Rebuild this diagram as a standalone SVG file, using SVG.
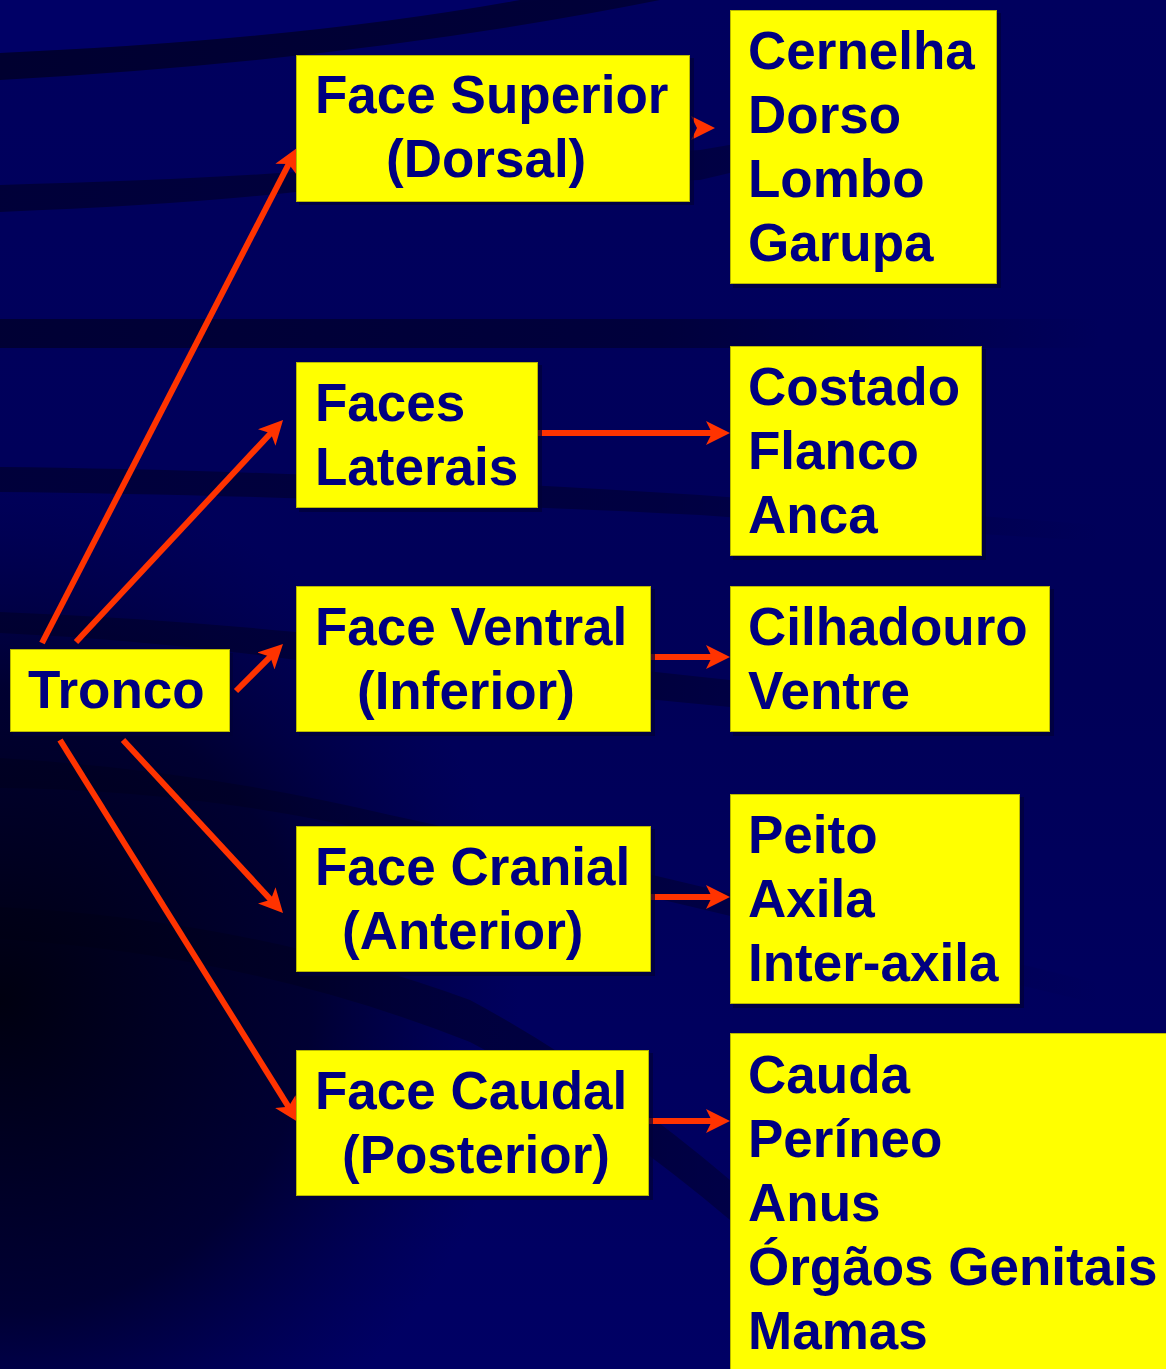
<svg xmlns="http://www.w3.org/2000/svg" width="1166" height="1369" viewBox="0 0 1166 1369">
<style>
.box{fill:#FFFF00;stroke:#B8B800;stroke-width:1}
.sh{fill:#000038;opacity:0.7}
.t{font-family:"Liberation Sans",Arial,sans-serif;font-weight:bold;font-size:53px;fill:#000080}
.ar{stroke:#FF3300;stroke-width:6;fill:none;marker-end:url(#ah)}
.band{fill:url(#fade)}
</style>
<defs>
<marker id="ah" viewBox="0 0 24 24" refX="10" refY="12" markerWidth="24" markerHeight="24" markerUnits="userSpaceOnUse" orient="auto">
<path d="M0,0 L24,12 L0,24 L6,12 Z" fill="#FF3300"/>
</marker>
<linearGradient id="bg" x1="0" y1="0" x2="0" y2="1">
<stop offset="0" stop-color="#00005E"/>
<stop offset="0.5" stop-color="#000058"/>
<stop offset="1" stop-color="#000064"/>
</linearGradient>
<linearGradient id="fade" x1="0" y1="0" x2="1100" y2="0" gradientUnits="userSpaceOnUse">
<stop offset="0" stop-color="#000030" stop-opacity="1"/>
<stop offset="0.6" stop-color="#000030" stop-opacity="0.8"/>
<stop offset="1" stop-color="#000030" stop-opacity="0"/>
</linearGradient>
<radialGradient id="dk" cx="0" cy="1000" r="520" gradientUnits="userSpaceOnUse">
<stop offset="0" stop-color="#000010" stop-opacity="1"/>
<stop offset="0.6" stop-color="#000020" stop-opacity="0.7"/>
<stop offset="1" stop-color="#000040" stop-opacity="0"/>
</radialGradient>
</defs>
<g id="background">
<rect width="1166" height="1369" fill="url(#bg)"/>
<path d="M0,0 H540 Q300,40 0,53 Z" fill="#000066"/>
<path class="band" d="M0,53 Q300,40 520,0 H660 Q360,60 0,80 Z"/>
<path class="band" d="M0,185 Q180,180 296,172 L700,150 Q850,125 1000,95 L1000,110 Q850,145 700,180 L296,192 Q180,205 0,212 Z" opacity="0.8"/>
<rect class="band" x="0" y="319" width="1166" height="29" opacity="0.9"/>
<path class="band" d="M0,467 Q300,470 700,495 Q900,510 1166,530 L1166,545 Q900,530 700,515 Q300,495 0,492 Z" opacity="0.75"/>
<path class="band" d="M0,612 Q150,618 296,632 Q500,655 730,680 L730,707 Q500,685 296,660 Q150,640 0,633 Z" opacity="0.8"/>
<path class="band" d="M0,758 Q200,770 390,815 Q600,860 1166,1000 L1166,1020 Q600,885 390,835 Q200,790 0,788 Z" opacity="0.75"/>
<path class="band" d="M0,907 Q250,920 470,1000 Q600,1070 730,1180 L730,1220 Q600,1110 470,1042 Q250,955 0,939 Z" opacity="0.8"/>
<rect width="1166" height="1369" fill="url(#dk)"/>
</g>
<g id="connectors">
<line class="ar" x1="42" y1="643" x2="290.6" y2="160.4"/>
<line class="ar" x1="76" y1="642" x2="273.5" y2="430.2"/>
<line class="ar" x1="236" y1="691" x2="273.1" y2="653.9"/>
<line class="ar" x1="123" y1="740" x2="273.5" y2="902.7"/>
<line class="ar" x1="60" y1="740" x2="290.6" y2="1110.1"/>
<line class="ar" x1="697" y1="128" x2="701" y2="128"/>
<line class="ar" x1="538" y1="433" x2="716" y2="433"/>
<line class="ar" x1="651" y1="657" x2="716" y2="657"/>
<line class="ar" x1="651" y1="897" x2="716" y2="897"/>
<line class="ar" x1="649" y1="1121" x2="716" y2="1121"/>
</g>
<g id="tronco">
<rect class="sh" x="13" y="653" width="220" height="83"/>
<rect class="box" x="10.5" y="649.5" width="219" height="82"/>
<text class="t" x="28" y="708">Tronco</text>
</g>
<g id="face-superior">
<rect class="sh" x="299" y="58" width="395" height="147"/>
<rect class="box" x="296.5" y="55.5" width="393" height="146"/>
<text class="t" x="315" y="113">Face Superior</text>
<text class="t" x="386" y="177">(Dorsal)</text>
</g>
<g id="cernelha">
<rect class="sh" x="733" y="13" width="268" height="275"/>
<rect class="box" x="730.5" y="10.5" width="266" height="273"/>
<text class="t" x="748" y="69">Cernelha</text>
<text class="t" x="748" y="133">Dorso</text>
<text class="t" x="748" y="197">Lombo</text>
<text class="t" x="748" y="261">Garupa</text>
</g>
<g id="faces-laterais">
<rect class="sh" x="299" y="365" width="243" height="147"/>
<rect class="box" x="296.5" y="362.5" width="241" height="145"/>
<text class="t" x="315" y="421">Faces</text>
<text class="t" x="315" y="485">Laterais</text>
</g>
<g id="costado">
<rect class="sh" x="733" y="349" width="253" height="211"/>
<rect class="box" x="730.5" y="346.5" width="251" height="209"/>
<text class="t" x="748" y="405">Costado</text>
<text class="t" x="748" y="469">Flanco</text>
<text class="t" x="748" y="533">Anca</text>
</g>
<g id="face-ventral">
<rect class="sh" x="299" y="589" width="356" height="147"/>
<rect class="box" x="296.5" y="586.5" width="354" height="145"/>
<text class="t" x="315" y="645">Face Ventral</text>
<text class="t" x="357" y="709">(Inferior)</text>
</g>
<g id="cilhadouro">
<rect class="sh" x="733" y="589" width="321" height="147"/>
<rect class="box" x="730.5" y="586.5" width="319" height="145"/>
<text class="t" x="748" y="645">Cilhadouro</text>
<text class="t" x="748" y="709">Ventre</text>
</g>
<g id="face-cranial">
<rect class="sh" x="299" y="829" width="356" height="147"/>
<rect class="box" x="296.5" y="826.5" width="354" height="145"/>
<text class="t" x="315" y="885">Face Cranial</text>
<text class="t" x="342" y="949">(Anterior)</text>
</g>
<g id="peito">
<rect class="sh" x="733" y="797" width="291" height="211"/>
<rect class="box" x="730.5" y="794.5" width="289" height="209"/>
<text class="t" x="748" y="853">Peito</text>
<text class="t" x="748" y="917">Axila</text>
<text class="t" x="748" y="981">Inter-axila</text>
</g>
<g id="face-caudal">
<rect class="sh" x="299" y="1053" width="354" height="147"/>
<rect class="box" x="296.5" y="1050.5" width="352" height="145"/>
<text class="t" x="315" y="1109">Face Caudal</text>
<text class="t" x="342" y="1173">(Posterior)</text>
</g>
<g id="cauda">
<rect class="sh" x="733" y="1037" width="440" height="340"/>
<rect class="box" x="730.5" y="1033.5" width="440" height="340"/>
<text class="t" x="748" y="1093">Cauda</text>
<text class="t" x="748" y="1157">Períneo</text>
<text class="t" x="748" y="1221">Anus</text>
<text class="t" x="748" y="1285">Órgãos Genitais</text>
<text class="t" x="748" y="1349">Mamas</text>
</g>
</svg>
